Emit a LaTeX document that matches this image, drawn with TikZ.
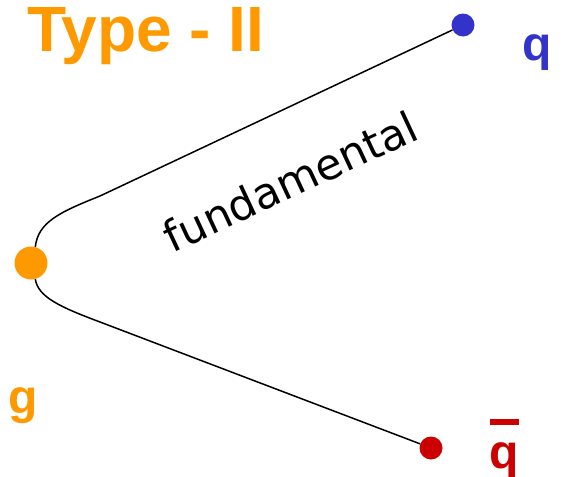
\documentclass[tikz,border=0pt]{standalone}
\usepackage{fontspec}
\setmainfont{Liberation Sans}
\newfontfamily\handfont{DejaVu Sans}
\definecolor{gorange}{HTML}{FF9900}
\definecolor{qblue}{HTML}{3333CC}
\definecolor{qred}{HTML}{CC0000}
\begin{document}
\begin{tikzpicture}[x=1pt,y=-1pt,
  dot/.style={circle,inner sep=0pt,minimum size=#1},
  lbl/.style={font=\fontsize{48}{50}\selectfont\bfseries,inner sep=0pt,anchor=base},
  string/.style={draw=black,line width=1.5pt}]
\useasboundingbox (0,0) rectangle (563,477);
\node[lbl,text=gorange,font=\fontsize{64}{66}\selectfont\bfseries] (title) at (146,51) {Type - II};
\node[dot=33pt,fill=gorange] (g) at (31,263) {};
\node[dot=23pt,fill=qblue] (q) at (463,25) {};
\node[dot=23pt,fill=qred] (qb) at (431,448) {};
\node[lbl,text=qblue] (ql) at (537,60) {q};
\node[lbl,text=qred] (qbl) at (504,468) {q};
\fill[qred] (490,419) rectangle (519,425);
\node[lbl,text=gorange] (gl) at (23,413) {g};
\draw[string] (g.75) .. controls (38,222) and (60,212) .. (100,196) -- (q);
\draw[string] (g.-75) .. controls (38,297) and (60,307) .. (100,322) -- (qb);
\node[font=\handfont\fontsize{43}{45}\selectfont,rotate=25,anchor=base] (fund) at (297,196) {fundamental};
\end{tikzpicture}
\end{document}
